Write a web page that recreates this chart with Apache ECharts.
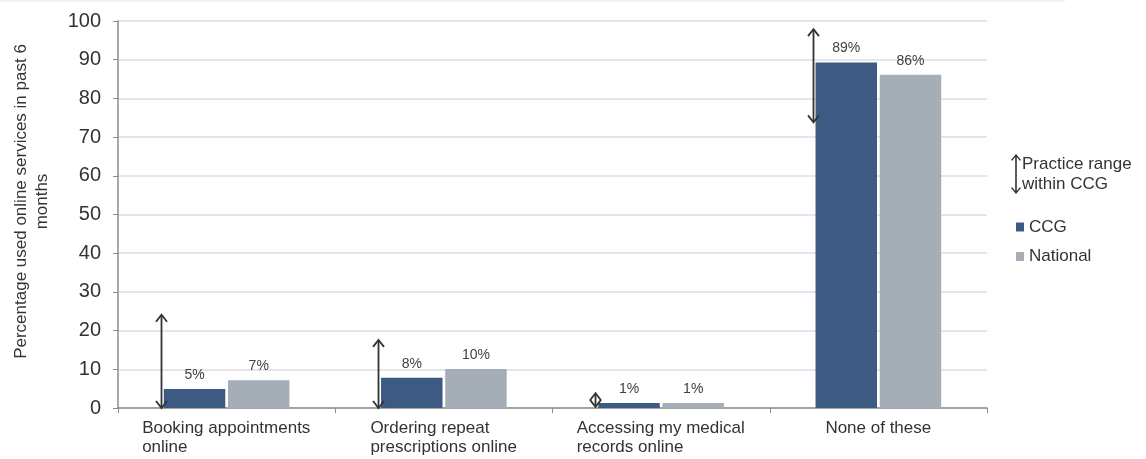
<!DOCTYPE html>
<html>
<head>
<meta charset="utf-8">
<script src="https://cdn.jsdelivr.net/npm/echarts@6/dist/echarts.min.js"></script>
<style>
html,body{margin:0;padding:0;background:#fff;}
#chart{width:1146px;height:459px;}
</style>
</head>
<body>
<div id="chart"></div>
<script>
// ---- data ----
const categories = ['Booking appointments\nonline', 'Ordering repeat\nprescriptions online', 'Accessing my medical\nrecords online', 'None of these'];
const ccgValues = [4.9, 7.8, 1.3, 89.3];
const nationalValues = [7.2, 10.1, 1.3, 86.1];
const rangeLow = [0, 0, 0.3, 73.8];
const rangeHigh = [24.1, 17.6, 3.8, 97.9];
const yTicks = [0, 10, 20, 30, 40, 50, 60, 70, 80, 90, 100];
const seriesNames = ['Practice range within CCG', 'CCG', 'National'];
const yAxisName = 'Percentage used online services in past 6\nmonths';

// ---- styling ----
const FONT = '"Liberation Sans", Arial, sans-serif';
const CCG_COLOR = '#3d5a82';
const NAT_COLOR = '#a5adb7';
const TEXT = '#333333';
const BAR_W = 0.283;
const BAR_GAP = 0.044;
const XLABEL_SIZE = 17;

// measure label widths so multi-line labels are left aligned in a centred block
const cv = document.createElement('canvas').getContext('2d');
cv.font = XLABEL_SIZE + 'px ' + FONT;
const rich = {};
categories.forEach((c, i) => {
  const w = Math.max(...c.split('\n').map(s => cv.measureText(s).width));
  rich['c' + i] = { width: Math.ceil(w), align: 'left', fontSize: XLABEL_SIZE, fontFamily: FONT, color: TEXT, lineHeight: 19 };
});

const rangeData = categories.map((c, i) => [i, rangeLow[i], rangeHigh[i]]);

const arrowIcon = 'path://M5,0 L10,6 L8.8,6.8 L5.8,3 L5.8,37 L8.8,33.2 L10,34 L5,40 L0,34 L1.2,33.2 L4.2,37 L4.2,3 L1.2,6.8 L0,6 Z';

function renderRange(params, api) {
  const idx = api.value(0);
  const top = api.coord([idx, api.value(2)]);
  const bot = api.coord([idx, api.value(1)]);
  const band = api.size([1, 0])[0];
  const x = Math.round(top[0] - band * (BAR_W + BAR_W * BAR_GAP / 2)) - 2.5;
  const y1 = top[1], y2 = bot[1];
  const h = 7, w = 5.5;
  const style = { stroke: '#333333', lineWidth: 1.8, fill: null, lineJoin: 'miter' };
  return {
    type: 'group',
    children: [
      { type: 'line', shape: { x1: x, y1: y1 + 1, x2: x, y2: y2 - 1 }, style: style },
      { type: 'polyline', shape: { points: [[x - w, y1 + h], [x, y1], [x + w, y1 + h]] }, style: style },
      { type: 'polyline', shape: { points: [[x - w, y2 - h], [x, y2], [x + w, y2 - h]] }, style: style }
    ]
  };
}

const chart = echarts.init(document.getElementById('chart'), null, { renderer: 'canvas' });
chart.setOption({
  animation: false,
  backgroundColor: '#ffffff',
  textStyle: { fontFamily: FONT },
  graphic: [{
    type: 'line', shape: { x1: 0, y1: 1, x2: 1065, y2: 1 },
    style: { stroke: '#e6e6e6', lineWidth: 1 }
  }],
  grid: { left: 118, right: 159, top: 21, bottom: 51, containLabel: false },
  legend: [{
    orient: 'vertical', left: 1006, top: 149,
    itemWidth: 10, itemHeight: 40,
    data: [{ name: seriesNames[0], icon: arrowIcon, itemStyle: { color: '#333333' } }],
    formatter: n => 'Practice range\nwithin CCG',
    textStyle: { fontSize: 17, color: TEXT, lineHeight: 20, fontFamily: FONT, padding: [0, 0, 0, -4] }
  }, {
    orient: 'vertical', left: 1011, top: 212,
    itemWidth: 8, itemHeight: 9, itemGap: 9.5,
    data: [{ name: seriesNames[1], icon: 'rect' }, { name: seriesNames[2], icon: 'rect' }],
    textStyle: { fontSize: 17, color: TEXT, lineHeight: 20, fontFamily: FONT }
  }],
  xAxis: {
    type: 'category',
    data: categories,
    axisLine: { lineStyle: { color: '#8c8c8c', width: 1.5 } },
    axisTick: { show: true, length: 5, lineStyle: { color: '#8c8c8c' } },
    axisLabel: {
      margin: 11,
      interval: 0,
      formatter: (v, i) => v.split('\n').map(s => '{c' + i + '|' + s + '}').join('\n'),
      rich: rich
    }
  },
  yAxis: {
    type: 'value',
    min: 0, max: 100, interval: 10,
    name: yAxisName,
    nameLocation: 'middle',
    nameGap: 65,
    nameTextStyle: { fontSize: 17, color: TEXT, lineHeight: 21, fontFamily: FONT, padding: [0, 0, 0, 26] },
    axisLine: { show: true, lineStyle: { color: '#8c8c8c', width: 1.5 } },
    axisTick: { show: true, length: 5, lineStyle: { color: '#8c8c8c' } },
    axisLabel: {
      margin: 17, fontSize: 20, color: TEXT, fontFamily: FONT,
      formatter: v => yTicks.includes(v) ? String(v) : ''
    },
    splitLine: { lineStyle: { color: '#dddde3', width: 1.5 } }
  },
  series: [{
    name: seriesNames[1], type: 'bar', data: ccgValues,
    barWidth: (BAR_W * 100) + '%', barGap: (BAR_GAP * 100) + '%',
    itemStyle: { color: CCG_COLOR },
    label: { show: true, position: 'top', distance: 7, fontSize: 14, color: '#404040', fontFamily: FONT,
      formatter: p => Math.round(p.value) + '%' }
  }, {
    name: seriesNames[2], type: 'bar', data: nationalValues,
    barWidth: (BAR_W * 100) + '%', barGap: (BAR_GAP * 100) + '%',
    itemStyle: { color: NAT_COLOR },
    label: { show: true, position: 'top', distance: 7, fontSize: 14, color: '#404040', fontFamily: FONT,
      formatter: p => Math.round(p.value) + '%' }
  }, {
    name: seriesNames[0], type: 'custom',
    data: rangeData,
    encode: { x: 0, y: [1, 2] },
    renderItem: renderRange,
    itemStyle: { color: '#333333' },
    z: 5
  }]
});
</script>
</body>
</html>
